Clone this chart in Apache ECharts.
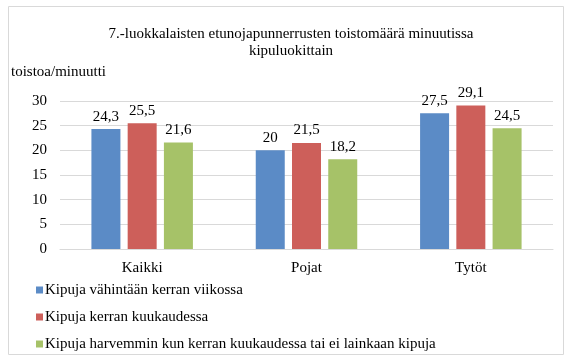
<!DOCTYPE html>
<html><head><meta charset="utf-8">
<script src="https://cdn.jsdelivr.net/npm/echarts@6/dist/echarts.min.js"></script>
<style>html,body{margin:0;padding:0;background:#fff}#c{width:571px;height:359px}</style>
</head><body><div id="c"></div>
<script>
const categories = ['Kaikki', 'Pojat', 'Tytöt'];
const seriesNames = ['Kipuja vähintään kerran viikossa', 'Kipuja kerran kuukaudessa', 'Kipuja harvemmin kun kerran kuukaudessa tai ei lainkaan kipuja'];
const weekly = [24.3, 20, 27.5];
const monthly = [25.5, 21.5, 29.1];
const rarely = [21.6, 18.2, 24.5];
const colors = ['#5B8BC6', '#CD5F5A', '#A6C268'];
const font = '"Liberation Serif", "Times New Roman", serif';

const chart = echarts.init(document.getElementById('c'));
const fmt = p => String(p.value).replace('.', ',');
const mk = (name, data, i) => ({
  name, type: 'bar', data, barWidth: 29, barGap: '25%',
  itemStyle: {color: colors[i]},
  label: {show: true, position: 'top', distance: 5, formatter: fmt, color: '#000', fontFamily: font, fontSize: 15}
});
chart.setOption({
  animation: false,
  textStyle: {fontFamily: font},
  graphic: [{type: 'rect', shape: {x: 8.5, y: 6.5, width: 555, height: 348}, style: {fill: 'none', stroke: '#d9d9d9', lineWidth: 1}, silent: true}],
  title: {
    text: '7.-luokkalaisten etunojapunnerrusten toistomäärä minuutissa\nkipuluokittain',
    left: 286, textAlign: 'center', top: 21,
    textStyle: {fontFamily: font, fontSize: 15, fontWeight: 'normal', color: '#000', lineHeight: 17}
  },
  legend: {
    orient: 'vertical', left: 36, top: 282, padding: 0, itemGap: 11, itemWidth: 7, itemHeight: 7,
    icon: 'rect', data: seriesNames,
    textStyle: {fontFamily: font, fontSize: 15, lineHeight: 16, color: '#000', padding: [0, 0, 0, -3]}
  },
  grid: {left: 60, right: 18, top: 101, bottom: 110, containLabel: false},
  xAxis: {
    type: 'category', data: categories,
    axisLine: {lineStyle: {color: '#d9d9d9'}}, axisTick: {show: false},
    axisLabel: {color: '#000', fontFamily: font, fontSize: 15, margin: 12}
  },
  yAxis: {
    type: 'value', min: 0, max: 30, interval: 5,
    name: 'toistoa/minuutti', nameLocation: 'end', nameGap: 21,
    nameTextStyle: {align: 'left', padding: [0, 0, 0, -49], color: '#000', fontFamily: font, fontSize: 15},
    axisLine: {show: false}, axisTick: {show: false},
    splitLine: {lineStyle: {color: '#d9d9d9'}},
    axisLabel: {color: '#000', fontFamily: font, fontSize: 15, margin: 13}
  },
  series: [mk(seriesNames[0], weekly, 0), mk(seriesNames[1], monthly, 1), mk(seriesNames[2], rarely, 2)]
});
</script></body></html>
